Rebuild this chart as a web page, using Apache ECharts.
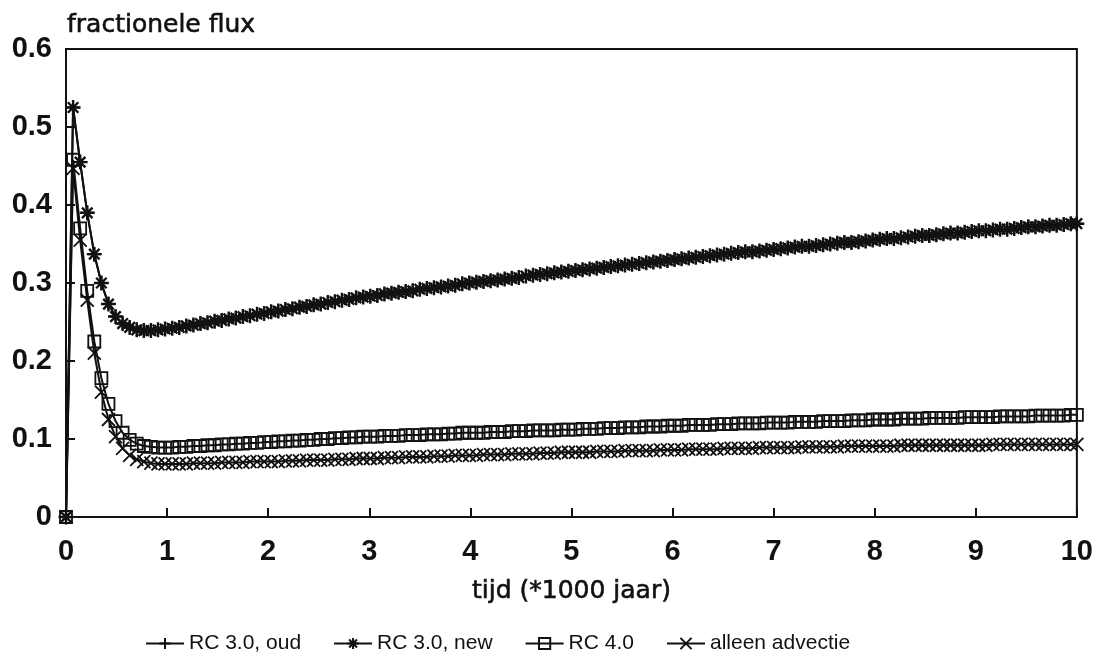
<!DOCTYPE html>
<html>
<head>
<meta charset="utf-8">
<script src="https://cdn.jsdelivr.net/npm/echarts@6/dist/echarts.min.js"></script>
<style>html,body{margin:0;padding:0;background:#fff;}#c{width:1096px;height:665px;}</style>
</head>
<body>
<div id="c"></div>
<script>
const tijd = [0.00,0.07,0.14,0.21,0.28,0.35,0.42,0.49,0.56,0.63,0.70,0.77,0.84,0.91,0.98,
1.05,1.12,1.19,1.26,1.33,1.40,1.47,1.54,1.61,1.68,1.75,1.82,1.89,1.96,
2.03,2.10,2.17,2.24,2.31,2.38,2.45,2.52,2.59,2.66,2.73,2.80,2.87,2.94,
3.01,3.08,3.15,3.22,3.29,3.36,3.43,3.50,3.57,3.64,3.71,3.78,3.85,3.92,
3.99,4.06,4.13,4.20,4.27,4.34,4.41,4.48,4.55,4.62,4.69,4.76,4.83,4.90,4.97,
5.04,5.11,5.18,5.25,5.32,5.39,5.46,5.53,5.60,5.67,5.74,5.81,5.88,5.95,
6.02,6.09,6.16,6.23,6.30,6.37,6.44,6.51,6.58,6.65,6.72,6.79,6.86,6.93,
7.00,7.07,7.14,7.21,7.28,7.35,7.42,7.49,7.56,7.63,7.70,7.77,7.84,7.91,7.98,
8.05,8.12,8.19,8.26,8.33,8.40,8.47,8.54,8.61,8.68,8.75,8.82,8.89,8.96,
9.03,9.10,9.17,9.24,9.31,9.38,9.45,9.52,9.59,9.66,9.73,9.80,9.87,9.94,10.00];

const rc30new = [0,0.525,0.455,0.390,0.337,0.300,0.273,0.257,0.248,0.243,0.240,0.239,0.239,0.240,0.241,
0.242,0.243,0.245,0.246,0.248,0.249,0.251,0.252,0.254,0.255,0.257,0.258,0.260,0.261,
0.263,0.264,0.266,0.267,0.269,0.270,0.272,0.273,0.275,0.276,0.278,0.279,0.281,0.282,
0.283,0.284,0.286,0.287,0.288,0.289,0.290,0.292,0.293,0.294,0.295,0.296,0.297,0.299,
0.300,0.301,0.302,0.303,0.304,0.305,0.306,0.307,0.309,0.310,0.311,0.312,0.313,0.314,0.315,
0.316,0.317,0.318,0.319,0.320,0.321,0.322,0.323,0.324,0.325,0.326,0.327,0.328,0.329,
0.330,0.331,0.332,0.333,0.334,0.335,0.336,0.337,0.338,0.339,0.340,0.340,0.341,0.342,
0.343,0.344,0.345,0.346,0.347,0.347,0.348,0.349,0.350,0.351,0.352,0.352,0.353,0.354,0.355,
0.356,0.357,0.357,0.358,0.359,0.360,0.361,0.361,0.362,0.363,0.364,0.364,0.365,0.366,
0.367,0.367,0.368,0.369,0.369,0.370,0.371,0.372,0.372,0.373,0.374,0.374,0.375,0.376,0.376];

const rc30oud = [0,0.525,0.455,0.390,0.337,0.300,0.273,0.257,0.248,0.243,0.240,0.239,0.239,0.240,0.241,
0.242,0.243,0.245,0.246,0.248,0.249,0.251,0.252,0.254,0.255,0.257,0.258,0.260,0.261,
0.263,0.264,0.266,0.267,0.269,0.270,0.272,0.273,0.275,0.276,0.278,0.279,0.281,0.282,
0.283,0.284,0.286,0.287,0.288,0.289,0.290,0.292,0.293,0.294,0.295,0.296,0.297,0.299,
0.300,0.301,0.302,0.303,0.304,0.305,0.306,0.307,0.309,0.310,0.311,0.312,0.313,0.314,0.315,
0.316,0.317,0.318,0.319,0.320,0.321,0.322,0.323,0.324,0.325,0.326,0.327,0.328,0.329,
0.330,0.331,0.332,0.333,0.334,0.335,0.336,0.337,0.338,0.339,0.340,0.340,0.341,0.342,
0.343,0.344,0.345,0.346,0.347,0.347,0.348,0.349,0.350,0.351,0.352,0.352,0.353,0.354,0.355,
0.356,0.357,0.357,0.358,0.359,0.360,0.361,0.361,0.362,0.363,0.364,0.364,0.365,0.366,
0.367,0.367,0.368,0.369,0.369,0.370,0.371,0.372,0.372,0.373,0.374,0.374,0.375,0.376,0.376];

const rc40 = [0,0.458,0.370,0.290,0.225,0.178,0.145,0.123,0.108,0.099,0.094,0.091,0.090,0.089,0.089,
0.089,0.090,0.090,0.091,0.091,0.092,0.092,0.093,0.093,0.094,0.094,0.095,0.095,0.096,
0.096,0.097,0.097,0.098,0.098,0.099,0.099,0.100,0.100,0.101,0.101,0.102,0.102,0.103,
0.103,0.103,0.104,0.104,0.104,0.105,0.105,0.105,0.106,0.106,0.106,0.107,0.107,0.108,
0.108,0.108,0.108,0.109,0.109,0.109,0.110,0.110,0.110,0.111,0.111,0.111,0.111,0.112,0.112,
0.112,0.113,0.113,0.113,0.114,0.114,0.114,0.115,0.115,0.115,0.116,0.116,0.116,0.117,
0.117,0.117,0.118,0.118,0.118,0.118,0.119,0.119,0.119,0.120,0.120,0.120,0.120,0.121,
0.121,0.121,0.121,0.122,0.122,0.122,0.122,0.123,0.123,0.123,0.123,0.124,0.124,0.124,0.125,
0.125,0.125,0.125,0.126,0.126,0.126,0.126,0.127,0.127,0.127,0.127,0.127,0.128,0.128,
0.128,0.128,0.128,0.129,0.129,0.129,0.129,0.129,0.130,0.130,0.130,0.130,0.130,0.131,0.131];

const advectie = [0,0.447,0.355,0.278,0.210,0.160,0.125,0.103,0.088,0.079,0.074,0.071,0.069,0.068,0.068,
0.068,0.068,0.068,0.069,0.069,0.069,0.069,0.070,0.070,0.070,0.070,0.071,0.071,0.071,
0.071,0.071,0.072,0.072,0.072,0.073,0.073,0.073,0.073,0.074,0.074,0.074,0.075,0.075,
0.075,0.075,0.076,0.076,0.076,0.077,0.077,0.077,0.077,0.078,0.078,0.078,0.079,0.079,
0.079,0.079,0.080,0.080,0.080,0.080,0.081,0.081,0.081,0.081,0.082,0.082,0.082,0.083,0.083,
0.083,0.083,0.083,0.084,0.084,0.084,0.084,0.085,0.085,0.085,0.085,0.085,0.086,0.086,
0.086,0.086,0.087,0.087,0.087,0.087,0.087,0.088,0.088,0.088,0.088,0.088,0.089,0.089,
0.089,0.089,0.089,0.089,0.090,0.090,0.090,0.090,0.090,0.090,0.091,0.091,0.091,0.091,0.091,
0.091,0.091,0.091,0.092,0.092,0.092,0.092,0.092,0.092,0.092,0.092,0.092,0.092,0.092,
0.092,0.092,0.093,0.093,0.093,0.093,0.093,0.093,0.093,0.093,0.093,0.093,0.093,0.093,0.093];

const seriesNames = ['RC 3.0, oud', 'RC 3.0, new', 'RC 4.0', 'alleen advectie'];
const yAxisTitle = 'fractionele flux';
const xAxisTitle = 'tijd (*1000 jaar)';

const INK = '#111';
const SYM_PLUS = 'path://M0,5L10,5M5,0L5,10';
const SYM_STAR = 'path://M0,5L10,5M5,0L5,10M1.5,1.5L8.5,8.5M8.5,1.5L1.5,8.5';
const SYM_X = 'path://M0,0L10,10M10,0L0,10';

function pairs(ys) { return tijd.map((t, i) => [t, ys[i]]); }

function mk(name, ys, symbol, size, bw, z) {
  return {
    name: name, type: 'line', data: pairs(ys),
    symbol: symbol, symbolSize: size, showSymbol: true,
    color: INK, z: z,
    lineStyle: { color: INK, width: 2 },
    itemStyle: { color: 'rgba(0,0,0,0)', borderColor: INK, borderWidth: bw },
    emphasis: { disabled: true },
    animation: false
  };
}

const chart = echarts.init(document.getElementById('c'));
chart.setOption({
  backgroundColor: '#fff',
  animation: false,
  title: {
    text: yAxisTitle, left: 62, top: 8,
    textStyle: { fontFamily: 'DejaVu Sans, sans-serif', fontSize: 25, fontWeight: 'normal', color: INK,
      textBorderColor: INK, textBorderWidth: 0.6 }
  },
  grid: { left: 66, right: 19, top: 49, bottom: 148, show: true, borderColor: INK, borderWidth: 2, backgroundColor: 'transparent' },
  legend: {
    bottom: 6, left: 140,
    itemWidth: 38, itemHeight: 14, itemGap: 32,
    data: seriesNames,
    textStyle: { fontFamily: 'Liberation Sans, Arial, sans-serif', fontSize: 21, color: INK }
  },
  xAxis: {
    type: 'value', min: 0, max: 10, interval: 1,
    name: xAxisTitle, nameLocation: 'middle', nameGap: 62,
    nameTextStyle: { fontFamily: 'DejaVu Sans, sans-serif', fontSize: 25, color: INK,
      textBorderColor: INK, textBorderWidth: 0.6 },
    axisLine: { show: true, lineStyle: { color: INK, width: 2 } },
    axisTick: { show: true, inside: true, length: 9, lineStyle: { color: INK, width: 2 } },
    axisLabel: { margin: 20, fontFamily: 'Liberation Sans, Arial, sans-serif', fontSize: 29, fontWeight: 'bold', color: INK },
    splitLine: { show: false }
  },
  yAxis: {
    type: 'value', min: 0, max: 0.6, interval: 0.1,
    axisLine: { show: true, lineStyle: { color: INK, width: 2 } },
    axisTick: { show: true, inside: true, length: 9, lineStyle: { color: INK, width: 2 } },
    axisLabel: { margin: 14, fontFamily: 'Liberation Sans, Arial, sans-serif', fontSize: 29, fontWeight: 'bold', color: INK },
    splitLine: { show: false }
  },
  series: [
    mk(seriesNames[0], rc30oud, SYM_PLUS, 13, 2, 3),
    mk(seriesNames[1], rc30new, SYM_STAR, 15, 2.4, 4),
    mk(seriesNames[2], rc40, 'rect', 12, 1.8, 2),
    mk(seriesNames[3], advectie, SYM_X, 13, 1.8, 1)
  ]
});
</script>
</body>
</html>
